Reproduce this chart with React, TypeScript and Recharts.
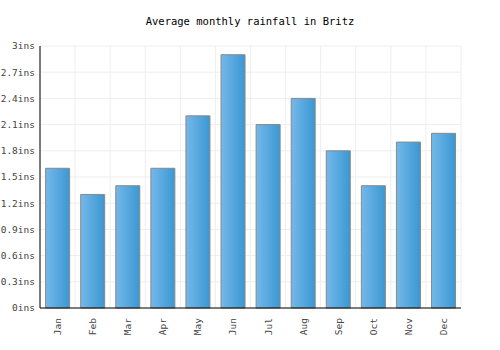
import React from 'react';
import { BarChart, Bar, XAxis, YAxis, CartesianGrid } from 'recharts';

const months = ['Jan', 'Feb', 'Mar', 'Apr', 'May', 'Jun', 'Jul', 'Aug', 'Sep', 'Oct', 'Nov', 'Dec'];
const rainfall = [1.6, 1.3, 1.4, 1.6, 2.2, 2.9, 2.1, 2.4, 1.8, 1.4, 1.9, 2.0];
const yTicks = [0, 0.3, 0.6, 0.9, 1.2, 1.5, 1.8, 2.1, 2.4, 2.7, 3];

const data = months.map((m, i) => ({ month: m, value: rainfall[i] }));

const font = '"DejaVu Sans Mono", monospace';

const MonthTick = (props: any) => {
  const { x, y, payload } = props;
  return (
    <text
      x={x}
      y={y}
      transform={`rotate(-90, ${x}, ${y})`}
      textAnchor="end"
      dominantBaseline="central"
      fontFamily={font}
      fontSize={9.5}
      fill="#444"
    >
      {payload.value}
    </text>
  );
};

export default function App() {
  return (
    <div style={{ position: 'absolute', left: 0, top: 0, width: 500, height: 350, background: '#fff' }}>
      <div
        style={{
          position: 'absolute',
          top: 15,
          left: 0,
          width: 500,
          textAlign: 'center',
          fontFamily: font,
          fontSize: 10.5,
          color: '#000',
        }}
      >
        Average monthly rainfall in Britz
      </div>
      <BarChart
        width={500}
        height={350}
        data={data}
        margin={{ top: 46, right: 39, bottom: 0, left: 0 }}
        barCategoryGap="16%"
      >
        <defs>
          <linearGradient id="barFill" x1="0" y1="0" x2="1" y2="0">
            <stop offset="0%" stopColor="#74b8ea" />
            <stop offset="100%" stopColor="#3a98d3" />
          </linearGradient>
        </defs>
        <CartesianGrid stroke="#eeeeee" horizontal vertical verticalCoordinatesGenerator={({ offset }: any) =>
          months.map((_, i) => offset.left + (offset.width / months.length) * i).concat([offset.left + offset.width])
        } />
        <XAxis
          dataKey="month"
          height={42}
          tickLine={false}
          axisLine={{ stroke: '#000' }}
          tick={<MonthTick />}
          tickMargin={4}
          interval={0}
        />
        <YAxis
          width={40}
          domain={[0, 3]}
          ticks={yTicks}
          tickFormatter={(v: number) => `${+v.toFixed(1)}ins`}
          tickLine={false}
          tickSize={0}
          axisLine={{ stroke: '#000' }}
          tick={{ fontFamily: font, fontSize: 9.5, fill: '#444' }}
          tickMargin={5}
          interval={0}
        />
        <Bar dataKey="value" fill="url(#barFill)" stroke="#888" strokeWidth={1} isAnimationActive={false} />
      </BarChart>
    </div>
  );
}
